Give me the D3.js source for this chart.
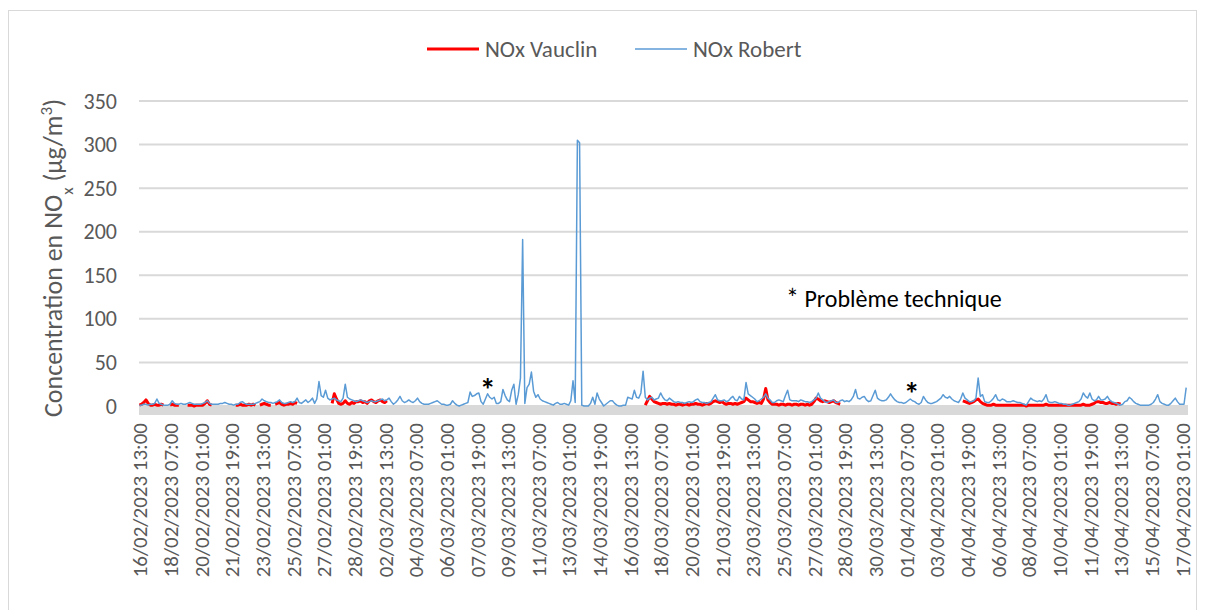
<!DOCTYPE html>
<html>
<head>
<meta charset="utf-8">
<script src="https://cdn.jsdelivr.net/npm/d3@7"></script>
<style>
body { margin: 0; background: #fff; }
text { font-family: Carlito, Calibri, Lato, sans-serif; }
.xaxis text, .yaxis text { fill: #595959; }
.grid line { stroke: #d9d9d9; stroke-width: 2; }
</style>
</head>
<body>
<svg id="chart" width="1206" height="610"></svg>
<script>

// one label every 42 hours, first one is 16/02/2023 13:00
var tickLabels = [
  "16/02/2023 13:00", "18/02/2023 07:00", "20/02/2023 01:00", "21/02/2023 19:00",
  "23/02/2023 13:00", "25/02/2023 07:00", "27/02/2023 01:00", "28/02/2023 19:00",
  "02/03/2023 13:00", "04/03/2023 07:00", "06/03/2023 01:00", "07/03/2023 19:00",
  "09/03/2023 13:00", "11/03/2023 07:00", "13/03/2023 01:00", "14/03/2023 19:00",
  "16/03/2023 13:00", "18/03/2023 07:00", "20/03/2023 01:00", "21/03/2023 19:00",
  "23/03/2023 13:00", "25/03/2023 07:00", "27/03/2023 01:00", "28/03/2023 19:00",
  "30/03/2023 13:00", "01/04/2023 07:00", "03/04/2023 01:00", "04/04/2023 19:00",
  "06/04/2023 13:00", "08/04/2023 07:00", "10/04/2023 01:00", "11/04/2023 19:00",
  "13/04/2023 13:00", "15/04/2023 07:00", "17/04/2023 01:00"
];
var labelStep = 42;   // hours between labels
var stepHours = 3;    // hours between values below

var yTicks = [0, 50, 100, 150, 200, 250, 300, 350];

// NOx Robert (µg/m3), one value every 3 h
var robert = [
  1,1,2,2,1,2,2,3,8,3,2,1,1,1,2,6,3,2,2,3,
  2,2,3,4,3,2,2,2,2,3,4,6,3,2,2,2,2,3,3,4,
  3,2,2,1,2,2,4,5,3,2,2,2,2,3,4,5,8,6,5,4,
  4,3,4,5,7,4,3,3,4,5,4,5,9,4,3,5,7,4,6,9,
  3,8,28,12,10,18,9,7,8,9,7,6,5,9,25,10,8,7,6,5,
  6,7,6,5,4,5,6,5,5,6,7,8,6,7,9,5,2,4,7,11,
  6,4,5,7,5,4,6,9,5,3,2,2,2,3,4,5,6,4,2,2,
  1,1,2,6,3,1,0,1,2,3,4,16,11,12,14,15,5,2,8,14,
  10,8,10,3,3,5,19,12,7,5,18,25,2,13,32,191,3,21,25,39,
  17,10,13,8,6,5,4,3,2,1,3,4,2,2,3,2,1,6,29,4,
  305,302,1,0,0,0,3,10,2,15,8,4,0,2,4,6,6,3,1,0,
  0,1,1,10,9,8,18,10,9,15,40,10,7,9,10,7,8,9,15,10,
  7,6,9,7,5,4,5,4,4,3,4,5,4,5,7,8,5,4,4,3,
  4,5,9,13,7,6,6,7,5,6,9,11,7,6,11,8,7,27,14,12,
  10,8,5,6,8,10,14,9,7,4,4,6,7,6,5,12,18,7,6,6,
  6,5,7,6,5,5,4,5,7,9,15,9,7,5,4,5,6,7,4,4,
  6,7,5,6,5,7,11,19,9,8,10,11,7,5,6,12,18,9,7,6,
  6,7,10,14,10,7,5,4,4,3,4,6,8,6,5,3,2,4,11,7,
  4,3,3,4,5,7,9,13,10,9,11,8,6,5,4,8,15,9,7,5,
  5,6,9,32,11,13,5,4,4,6,9,13,7,6,8,7,5,5,5,6,
  5,4,4,3,2,1,5,9,7,6,5,6,5,8,13,5,4,4,5,4,
  3,3,2,2,1,1,2,3,4,5,8,15,11,9,15,8,6,7,11,7,
  7,8,11,7,5,4,3,2,1,2,5,6,10,8,5,3,2,1,1,1,
  1,1,2,4,8,13,5,3,2,1,1,3,6,9,5,2,2,2,21
];

// NOx Vauclin (µg/m3), same 3 h steps, null = no measure
var vauclin = [
  1,2,4,7,3,1,1,2,1,1,2,1,null,null,1,2,1,1,1,null,
  null,null,1,1,1,0,1,1,1,1,3,6,2,1,null,null,null,null,null,null,
  null,null,null,null,1,1,2,1,1,1,2,1,2,1,null,1,2,3,2,1,
  1,null,2,3,4,2,1,2,2,3,2,4,3,null,null,null,null,null,null,null,
  null,null,null,null,null,null,null,null,3,14,8,3,2,3,6,3,2,4,3,5,
  5,6,4,5,3,6,7,5,4,6,7,5,4,6,null,null,null,null,null,null,
  null,null,null,null,null,null,null,null,null,null,null,null,null,null,null,null,null,null,null,null,
  null,null,null,null,null,null,null,null,null,null,null,null,null,null,null,null,null,null,null,null,
  null,null,null,null,null,null,null,null,null,null,null,null,null,null,null,null,null,null,null,null,
  null,null,null,null,null,null,null,null,null,null,null,null,null,null,null,null,null,null,null,null,
  null,null,null,null,null,null,null,null,null,null,null,null,null,null,null,null,null,null,null,null,
  null,null,null,null,null,null,null,null,null,null,null,1,6,11,8,5,4,3,2,3,
  3,2,3,2,2,1,2,2,1,2,2,1,2,2,3,2,2,1,2,3,
  2,3,5,6,5,4,5,3,2,3,3,2,3,2,3,4,5,9,7,5,
  5,4,3,4,3,8,20,7,4,2,2,2,1,2,2,1,2,2,1,2,
  2,1,2,2,1,2,1,2,5,9,8,6,5,6,5,4,5,6,4,3,
  2,null,null,null,null,null,null,null,null,null,null,null,null,null,null,null,null,null,null,null,
  null,null,null,null,null,null,null,null,null,null,null,null,null,null,null,null,null,null,null,null,
  null,null,null,null,null,null,null,null,null,null,null,null,null,null,null,null,6,5,4,3,
  4,5,7,8,5,3,2,1,1,1,2,1,1,1,1,1,1,1,1,1,
  1,1,1,1,1,0,1,1,1,1,1,1,1,1,2,1,1,1,1,1,
  1,1,1,1,1,1,1,1,1,1,1,2,1,1,1,2,3,5,5,4,
  4,3,3,4,3,3,2,3,2,null,null,null,null,null,null,null,null,null,null,null,
  null,null,null,null,null,null,null,null,null,null,null,null,null,null,null,null,null,null,null
];

// "*" marks for the technical problems: [hour, value]
var marks = [[477, 28], [1058, 24]];

var svg = d3.select("#chart");

// outer frame of the chart
svg.append("rect")
    .attr("x", 8.5).attr("y", 10.5)
    .attr("width", 1188).attr("height", 620)
    .attr("fill", "none").attr("stroke", "#d9d9d9");

var plotLeft = 139, plotRight = 1188;

var x = d3.scaleLinear()
    .domain([0, (robert.length - 1) * stepHours])
    .range([139.4, 1186.2]);

var y = d3.scaleLinear()
    .domain([0, 350])
    .range([406, 101]);

// horizontal grid
svg.append("g").attr("class", "grid")
    .selectAll("line")
    .data(yTicks)
    .enter().append("line")
    .attr("x1", plotLeft).attr("x2", plotRight)
    .attr("y1", function(d){ return y(d); })
    .attr("y2", function(d){ return y(d); });

// grey axis band under zero
svg.append("rect")
    .attr("x", plotLeft).attr("y", y(0))
    .attr("width", plotRight - plotLeft).attr("height", 9)
    .attr("fill", "#d9d9d9");

// y axis labels
var yAxis = svg.append("g").attr("class", "yaxis")
    .attr("transform", "translate(" + plotLeft + ",0)")
    .call(d3.axisLeft(y).tickValues(yTicks).tickSize(0).tickPadding(22));
yAxis.select(".domain").remove();
yAxis.selectAll("text").style("font-size", "22px");

// x axis labels, rotated
var xAxis = svg.append("g").attr("class", "xaxis")
    .attr("transform", "translate(0," + (y(0) + 9) + ")")
    .call(d3.axisBottom(x)
        .tickValues(tickLabels.map(function(d, i){ return i * labelStep; }))
        .tickFormat(function(d, i){ return tickLabels[i]; })
        .tickSize(0));
xAxis.select(".domain").remove();
xAxis.selectAll("text")
    .attr("transform", "rotate(-90)")
    .attr("text-anchor", "end")
    .attr("x", -8)
    .attr("y", 0)
    .attr("dy", "0.35em")
    .style("font-size", "21px");

// y title
var title = svg.append("text")
    .attr("transform", "translate(62,258) rotate(-90)")
    .attr("text-anchor", "middle")
    .attr("fill", "#595959")
    .style("font-size", "26px");
title.append("tspan").text("Concentration en NO");
title.append("tspan").attr("baseline-shift", "sub").style("font-size", "17px").text("x");
title.append("tspan").text(" (µg/m");
title.append("tspan").attr("baseline-shift", "super").style("font-size", "17px").text("3");
title.append("tspan").text(")");

// series
var line = d3.line()
    .defined(function(d){ return d != null; })
    .x(function(d, i){ return x(i * stepHours); })
    .y(function(d){ return y(d); });

svg.append("path")
    .datum(vauclin)
    .attr("d", line)
    .attr("fill", "none")
    .attr("stroke", "#ff0000")
    .attr("stroke-width", 3)
    .attr("stroke-linejoin", "round");

svg.append("path")
    .datum(robert)
    .attr("d", line)
    .attr("fill", "none")
    .attr("stroke", "#5b9bd5")
    .attr("stroke-width", 1.5)
    .attr("stroke-linejoin", "round");

// asterisks
svg.selectAll(".mark")
    .data(marks)
    .enter().append("text")
    .attr("class", "mark")
    .attr("x", function(d){ return x(d[0]); })
    .attr("y", function(d){ return y(d[1]); })
    .attr("dy", "0.62em")
    .attr("text-anchor", "middle")
    .attr("fill", "#000")
    .style("font-size", "32px")
    .style("font-weight", "bold")
    .text("*");

var note = svg.append("text")
    .attr("x", 786)
    .attr("y", 307)
    .attr("fill", "#000")
    .style("font-size", "24px");
note.append("tspan").style("font-size", "26px").text("*");
note.append("tspan").text(" Problème technique");

// legend
var legend = [
  {name: "NOx Vauclin", color: "#ff0000", width: 3, x: 427},
  {name: "NOx Robert", color: "#5b9bd5", width: 1.5, x: 635}
];
var lg = svg.selectAll(".legend")
    .data(legend)
    .enter().append("g")
    .attr("class", "legend")
    .attr("transform", function(d){ return "translate(" + d.x + ",49)"; });
lg.append("line")
    .attr("x1", 0).attr("x2", 52)
    .attr("stroke", function(d){ return d.color; })
    .attr("stroke-width", function(d){ return d.width; });
lg.append("text")
    .attr("x", 58)
    .attr("dy", "0.35em")
    .attr("fill", "#595959")
    .style("font-size", "23px")
    .text(function(d){ return d.name; });

</script>
</body>
</html>
